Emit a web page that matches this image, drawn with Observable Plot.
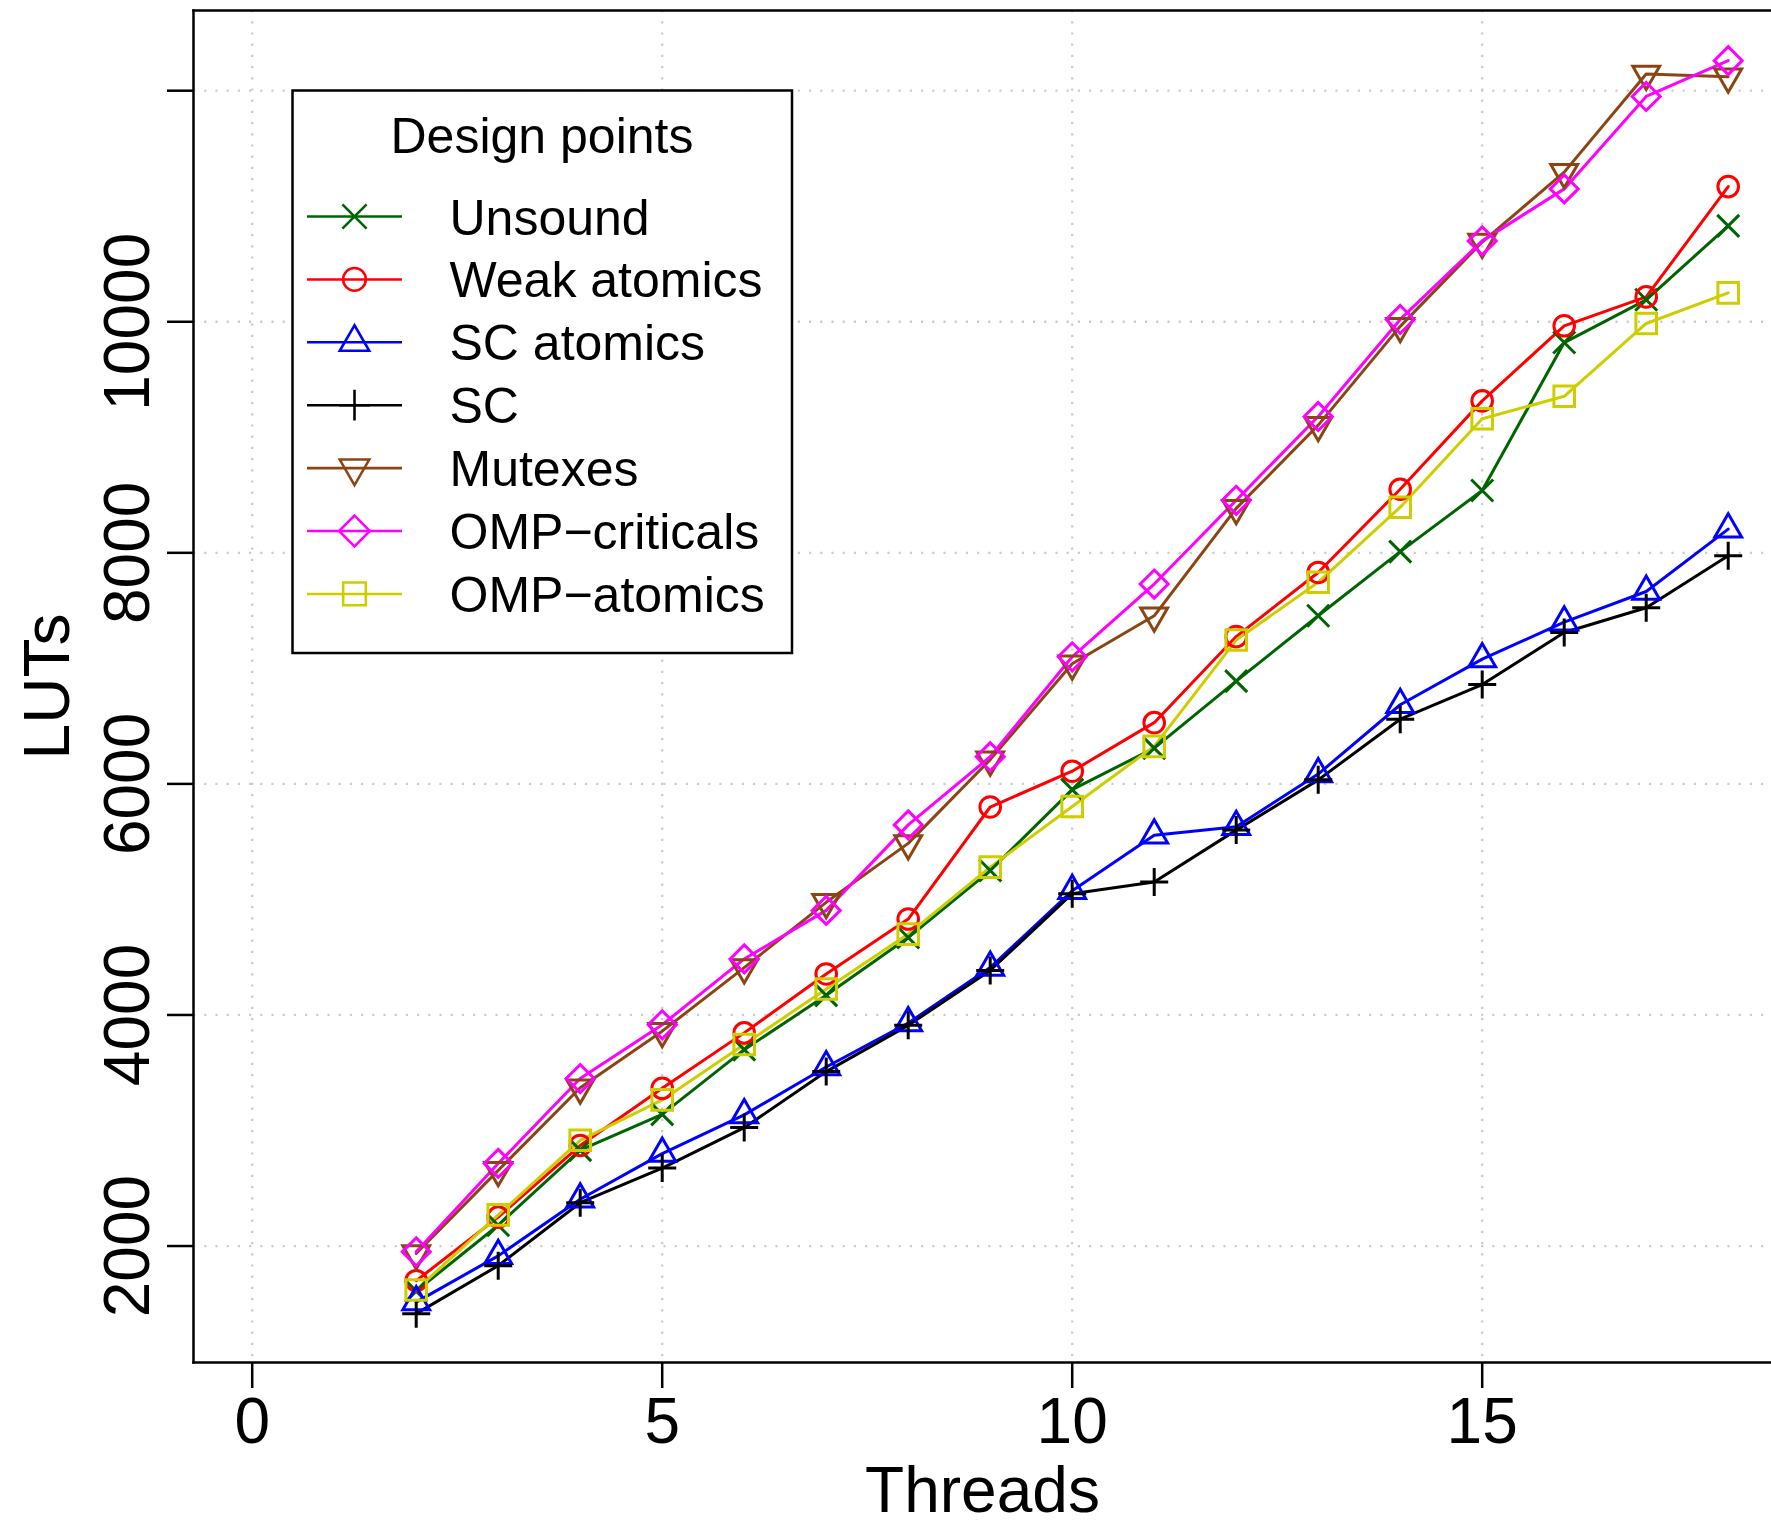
<!DOCTYPE html>
<html>
<head>
<meta charset="utf-8">
<script src="https://cdn.jsdelivr.net/npm/d3@7"></script>
<script src="https://cdn.jsdelivr.net/npm/@observablehq/plot@0.6"></script>
<style>
html, body { margin: 0; padding: 0; background: #ffffff; }
#chart { position: relative; width: 1771px; height: 1527px; overflow: hidden; }
</style>
</head>
<body>
<div id="chart"></div>
<script>
// ---- data ----
const threads = [2, 3, 4, 5, 6, 7, 8, 9, 10, 11, 12, 13, 14, 15, 16, 17, 18];
const unsound      = [1610, 2180, 2830, 3140, 3700, 4170, 4670, 5250, 5950, 6310, 6890, 7455, 8010, 8540, 9820, 10190, 10830];
const weakAtomics  = [1700, 2250, 2870, 3365, 3845, 4355, 4830, 5800, 6110, 6530, 7275, 7830, 8550, 9315, 9965, 10215, 11170];
const scAtomics    = [1515, 1915, 2405, 2800, 3135, 3550, 3930, 4410, 5075, 5555, 5630, 6085, 6685, 7080, 7400, 7665, 8205];
const sc           = [1415, 1830, 2375, 2675, 3025, 3510, 3910, 4385, 5050, 5150, 5600, 6035, 6560, 6860, 7310, 7525, 7975];
const mutexes      = [1935, 2655, 3370, 3860, 4410, 4975, 5485, 6210, 7040, 7455, 8385, 9105, 9960, 10690, 11295, 12145, 12120];
const ompCriticals = [1950, 2715, 3450, 3915, 4485, 4905, 5645, 6235, 7100, 7730, 8455, 9180, 10020, 10700, 11150, 11950, 12260];
const ompAtomics   = [1620, 2270, 2915, 3265, 3745, 4225, 4700, 5280, 5805, 6325, 7245, 7745, 8395, 9160, 9355, 9985, 10250];

const seriesNames  = ["Unsound", "Weak atomics", "SC atomics", "SC", "Mutexes", "OMP\u2212criticals", "OMP\u2212atomics"];
const seriesValues = [unsound, weakAtomics, scAtomics, sc, mutexes, ompCriticals, ompAtomics];

const xTicks = [0, 5, 10, 15];
const yTicks = [2000, 4000, 6000, 8000, 10000, 12000];
const yTickLabels = ["2000", "4000", "6000", "8000", "10000", ""];
const legendTitle = "Design points";
const xLabel = "Threads";
const yLabel = "LUTs";

// ---- styles ----
const colors = ["#006400", "#ff0000", "#0000ff", "#000000", "#8b4513", "#ff00ff", "#cdcd00"];
function radiusOf(size) { return Math.sqrt(size / Math.PI); }
const symTimes = { draw(c, s) { const r = radiusOf(s); c.moveTo(-r, -r); c.lineTo(r, r); c.moveTo(-r, r); c.lineTo(r, -r); } };
const symCircle = { draw(c, s) { const r = radiusOf(s); c.moveTo(r, 0); c.arc(0, 0, r, 0, 2 * Math.PI); c.closePath(); } };
const symTriUp = { draw(c, s) { const r = radiusOf(s); const h = r * Math.sqrt(3) / 2; c.moveTo(0, -r); c.lineTo(h, r / 2); c.lineTo(-h, r / 2); c.closePath(); } };
const symPlus = { draw(c, s) { const r = radiusOf(s); c.moveTo(-r, 0); c.lineTo(r, 0); c.moveTo(0, -r); c.lineTo(0, r); } };
const symTriDown = { draw(c, s) { const r = radiusOf(s); const h = r * Math.sqrt(3) / 2; c.moveTo(0, r); c.lineTo(h, -r / 2); c.lineTo(-h, -r / 2); c.closePath(); } };
const symDiamond = { draw(c, s) { const r = radiusOf(s); c.moveTo(0, -r); c.lineTo(r, 0); c.lineTo(0, r); c.lineTo(-r, 0); c.closePath(); } };
const symSquare = { draw(c, s) { const r = radiusOf(s); c.moveTo(-r, -r); c.lineTo(r, -r); c.lineTo(r, r); c.lineTo(-r, r); c.closePath(); } };
const symbols = [symTimes, symCircle, symTriUp, symPlus, symTriDown, symDiamond, symSquare];
const symbolR = [11, 10.3, 15.5, 14, 15.5, 14, 10.3];
const lw = 3;

const W = 1771, H = 1527;
const margins = { left: 193, top: 10, bottom: 165, right: 0 };
const FONT = "'Liberation Sans', Arial, Helvetica, sans-serif";

const marks = [
  Plot.gridX({ ticks: xTicks, stroke: "#cccccc", strokeOpacity: 1, strokeWidth: 2.3, strokeDasharray: "2.2,9" }),
  Plot.gridY({ ticks: yTicks, stroke: "#cccccc", strokeOpacity: 1, strokeWidth: 2.3, strokeDasharray: "2.2,9" })
];
seriesValues.forEach((vals, i) => {
  const rows = threads.map((t, j) => ({ t, v: vals[j] }));
  marks.push(Plot.line(rows, { x: "t", y: "v", stroke: colors[i], strokeWidth: lw }));
});
seriesValues.forEach((vals, i) => {
  const rows = threads.map((t, j) => ({ t, v: vals[j] }));
  marks.push(Plot.dot(rows, { x: "t", y: "v", symbol: symbols[i], r: symbolR[i], stroke: colors[i], fill: "none", strokeWidth: lw }));
});
marks.push(
  Plot.axisX({ ticks: xTicks, tickSize: 26, tickPadding: 9, strokeWidth: 2.5, fontSize: 64,
    label: xLabel, labelArrow: "none", labelAnchor: "center", labelOffset: 149 }),
  Plot.axisY({ ticks: yTicks, tickSize: 26, tickPadding: 19, tickRotate: -90, strokeWidth: 2.5, fontSize: 64,
    tickFormat: d => yTickLabels[yTicks.indexOf(d)],
    label: yLabel, labelArrow: "none", labelAnchor: "center", labelOffset: 170 }),
  Plot.frame({ anchor: "left", stroke: "#000", strokeWidth: 2.5 }),
  Plot.frame({ anchor: "top", stroke: "#000", strokeWidth: 2.5 }),
  Plot.frame({ anchor: "bottom", stroke: "#000", strokeWidth: 2.5 })
);

const chart = Plot.plot({
  width: W, height: H,
  marginLeft: margins.left, marginTop: margins.top, marginBottom: margins.bottom, marginRight: margins.right,
  x: { domain: [-0.716, 18.528] },
  y: { domain: [992, 12694] },
  style: { fontFamily: FONT, fontSize: "64px", background: "#ffffff", color: "#000", overflow: "visible" },
  marks
});

// ---- legend (inside the plot, top-left) ----
const svg = d3.select(chart);
const lg = svg.append("g").attr("class", "legend").attr("text-anchor", "start");
const box = { x: 292.5, y: 90.5, w: 499.5, h: 562.5 };
lg.append("rect").attr("x", box.x).attr("y", box.y).attr("width", box.w).attr("height", box.h)
  .attr("fill", "#ffffff").attr("stroke", "#000").attr("stroke-width", 2.5);
lg.append("text").attr("x", 542).attr("y", 153).attr("text-anchor", "middle")
  .attr("font-family", FONT).attr("font-size", 50).attr("fill", "#000").text(legendTitle);
const rowY0 = 216.5, rowDy = 62.9;
seriesNames.forEach((name, i) => {
  const cy = rowY0 + i * rowDy;
  lg.append("line").attr("x1", 307).attr("x2", 402).attr("y1", cy).attr("y2", cy)
    .attr("stroke", colors[i]).attr("stroke-width", lw * 0.85);
  const rr = symbolR[i] * 1.1;
  lg.append("path").attr("transform", `translate(354.5,${cy})`)
    .attr("d", d3.symbol(symbols[i], rr * rr * Math.PI)())
    .attr("fill", "none").attr("stroke", colors[i]).attr("stroke-width", lw * 0.85);
  lg.append("text").attr("x", 449.5).attr("y", cy).attr("dy", "0.36em").attr("text-anchor", "start")
    .attr("font-family", FONT).attr("font-size", 50).attr("fill", "#000").text(name);
});

document.getElementById("chart").appendChild(chart);
</script>
</body>
</html>
